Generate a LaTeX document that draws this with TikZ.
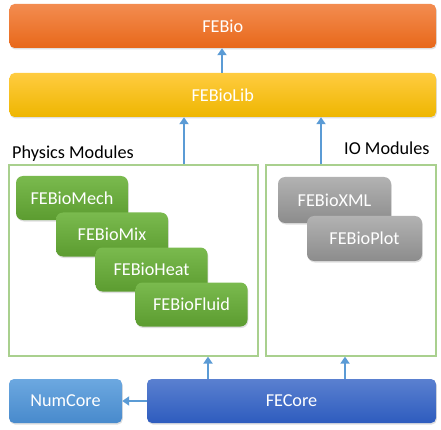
\documentclass[tikz,border=0pt]{standalone}
\usepackage{fontspec}
\setmainfont{Carlito}
\usetikzlibrary{arrows.meta,shadows}
\definecolor{arrblue}{HTML}{5B9BD5}
\definecolor{boxgreen}{HTML}{A9D08E}
\tikzset{
  blk/.style={rounded corners=5pt, text=white, font=\fontsize{18.2}{21}\selectfont,
    drop shadow={opacity=0.25, shadow xshift=0.8pt, shadow yshift=-1.5pt}},
  mod/.style={blk, rounded corners=7pt, minimum width=112pt, minimum height=44pt},
  greenblk/.style={mod, top color={rgb,255:red,122;green,186;blue,78}, bottom color={rgb,255:red,92;green,156;blue,48}},
  grayblk/.style={mod, top color={rgb,255:red,178;green,178;blue,178}, bottom color={rgb,255:red,140;green,140;blue,140}},
  frame/.style={draw=boxgreen, line width=1.2pt},
  arr/.style={draw=arrblue, line width=2.8pt, -{Triangle[length=7pt,width=9pt]}},
  lbl/.style={font=\fontsize{18.2}{21}\selectfont, text=black, inner sep=0pt}
}
\begin{document}
\begin{tikzpicture}[x=1pt,y=-1pt]
\useasboundingbox (0,0) rectangle (441,430);
% top
\node[blk, minimum width=426.5pt, minimum height=44pt,
  top color={rgb,255:red,243;green,140;blue,80}, bottom color={rgb,255:red,232;green,104;blue,26}] (FEBio) at (222.75,26) {FEBio};
\node[blk, minimum width=426.5pt, minimum height=44pt,
  top color={rgb,255:red,255;green,204;blue,64}, bottom color={rgb,255:red,238;green,182;blue,0}] (Lib) at (222.75,95) {FEBioLib};
% frames
\node[frame, minimum width=249pt, minimum height=191pt, inner sep=0pt] (Phys) at (133.5,260.5) {};
\node[frame, minimum width=170pt, minimum height=191pt, inner sep=0pt] (IO) at (351,260.5) {};
\node[lbl, anchor=base west] (PhysL) at (12,159) {Physics Modules};
\node[lbl, anchor=base west] (IOL) at (344,155) {IO Modules};
% physics modules
\node[greenblk] (Mech) at (72,198) {FEBioMech};
\node[greenblk] (Mix) at (112,234.5) {FEBioMix};
\node[greenblk] (Heat) at (151.5,269.5) {FEBioHeat};
\node[greenblk] (Fluid) at (191.5,304.5) {FEBioFluid};
% IO modules
\node[grayblk, minimum width=113pt, minimum height=46pt] (XML) at (334.5,200) {FEBioXML};
\node[grayblk, minimum width=115pt, minimum height=45pt] (Plot) at (364.5,238.5) {FEBioPlot};
% bottom
\node[blk, minimum width=113pt, minimum height=44pt,
  top color={rgb,255:red,108;green,168;blue,224}, bottom color={rgb,255:red,72;green,138;blue,204}] (Num) at (65.5,401) {NumCore};
\node[blk, minimum width=289pt, minimum height=44pt,
  top color={rgb,255:red,90;green,128;blue,208}, bottom color={rgb,255:red,46;green,92;blue,190}] (FECore) at (291.5,401) {FECore};
% arrow guides
\coordinate (c1) at (184,0);
\coordinate (c2) at (321,0);
\coordinate (c3) at (208,0);
\coordinate (c4) at (345,0);
\coordinate (c0) at (222,0);
% arrows
\draw[arr] (Lib.north -| c0) -- (FEBio.south -| c0);
\draw[arr] (Phys.north -| c1) -- (Lib.south -| c1);
\draw[arr] (IO.north -| c2) -- (Lib.south -| c2);
\draw[arr] (FECore.north -| c3) -- (Phys.south -| c3);
\draw[arr] (FECore.north -| c4) -- (IO.south -| c4);
\draw[arr] (FECore.west) -- (Num.east);
\end{tikzpicture}
\end{document}
